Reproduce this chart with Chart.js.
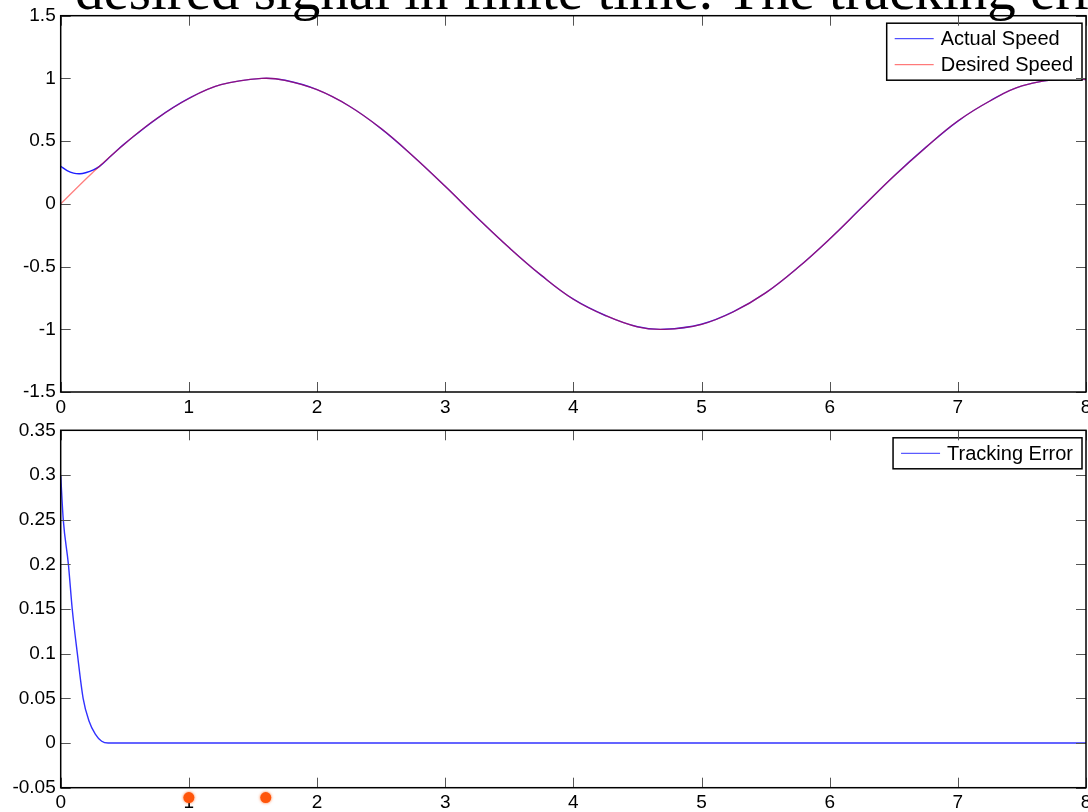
<!DOCTYPE html>
<html>
<head>
<meta charset="utf-8">
<script src="https://cdn.jsdelivr.net/npm/chart.js@4.4.0/dist/chart.umd.min.js"></script>
<style>
  html, body { margin: 0; padding: 0; background: #fff; overflow: hidden; }
  #wrap { position: relative; width: 1088px; height: 812px; overflow: hidden; }
  #topChart { position: absolute; left: 0; top: 0; }
  #bottomChart { position: absolute; left: 0; top: 420px; }
  #caption {
    position: absolute; left: 75px; top: -39px; z-index: 2;
    font-family: "Liberation Serif", "Times New Roman", serif;
    font-size: 57px; line-height: 57px; white-space: nowrap; color: #000;
  }
</style>
</head>
<body>
<div id="wrap">
  <div id="caption">desired signal in finite time. The tracking error</div>
  <canvas id="topChart" width="1088" height="420"></canvas>
  <canvas id="bottomChart" width="1088" height="392"></canvas>
</div>
<script>
// Data
const xTicks = [0, 1, 2, 3, 4, 5, 6, 7, 8];

const speedTime = [0, 0.25, 0.5, 0.75, 1, 1.25, 1.57, 1.75, 2, 2.25, 2.5, 2.75, 3, 3.25, 3.5, 3.75,
                   4, 4.25, 4.5, 4.71, 5, 5.25, 5.5, 5.75, 6, 6.25, 6.5, 6.75, 7, 7.25, 7.5, 7.85, 8];
const desiredSpeed = [0, 0.25, 0.48, 0.68, 0.84, 0.95, 1.0, 0.985, 0.91, 0.78, 0.6, 0.38, 0.14, -0.11, -0.35, -0.57,
                      -0.76, -0.89, -0.98, -1.0, -0.96, -0.86, -0.71, -0.51, -0.28, -0.03, 0.22, 0.45, 0.66, 0.82, 0.94, 1.0, 0.99];

const actualTime = [0, 0.05, 0.1, 0.15, 0.2, 0.25, 0.3, 0.4, 0.5, 0.75, 1, 1.25, 1.57, 1.75, 2, 2.25, 2.5, 2.75, 3, 3.25,
                    3.5, 3.75, 4, 4.25, 4.5, 4.71, 5, 5.25, 5.5, 5.75, 6, 6.25, 6.5, 6.75, 7, 7.25, 7.5, 7.85, 8];
const actualSpeed = [0.3, 0.265, 0.245, 0.24, 0.25, 0.268, 0.297, 0.39, 0.48, 0.68, 0.84, 0.95, 1.0, 0.985, 0.91, 0.78,
                     0.6, 0.38, 0.14, -0.11, -0.35, -0.57, -0.76, -0.89, -0.98, -1.0, -0.96, -0.86, -0.71, -0.51,
                     -0.28, -0.03, 0.22, 0.45, 0.66, 0.82, 0.94, 1.0, 0.99];

const errorTime = [0, 0.02, 0.06, 0.09, 0.13, 0.175, 0.22, 0.27, 0.32, 0.37, 1, 2, 3, 4, 5, 6, 7, 8];
const trackingError = [0.3, 0.25, 0.2, 0.15, 0.1, 0.05, 0.025, 0.01, 0.002, 0, 0, 0, 0, 0, 0, 0, 0, 0];

// the two orange marks under the lower axis
const markTime = [1.0, 1.6];
const markValue = [-0.061, -0.061];

const topYTicks = [-1.5, -1, -0.5, 0, 0.5, 1, 1.5];
const topYLabels = ['-1.5', '-1', '-0.5', '0', '0.5', '1', '1.5'];
const bottomYTicks = [-0.05, 0, 0.05, 0.1, 0.15, 0.2, 0.25, 0.3, 0.35];
const bottomYLabels = ['-0.05', '0', '0.05', '0.1', '0.15', '0.2', '0.25', '0.3', '0.35'];

const tickFont = { family: '"Liberation Sans", Arial, sans-serif', size: 19 };
const legendFont = '20px "Liberation Sans", Arial, sans-serif';

const toPoints = (xs, ys) => xs.map((x, i) => ({ x: x, y: ys[i] }));

// MATLAB style box with inward ticks on all four sides
const frameTicks = {
    id: 'frameTicks',
    afterDraw(chart) {
        const { ctx, chartArea: a, scales } = chart;
        const len = 10;
        ctx.save();
        ctx.strokeStyle = '#555';
        ctx.lineWidth = 1;
        ctx.beginPath();
        scales.x.ticks.forEach(t => {
            const px = Math.round(scales.x.getPixelForValue(t.value)) + 0.5;
            ctx.moveTo(px, a.bottom); ctx.lineTo(px, a.bottom - len);
            ctx.moveTo(px, a.top); ctx.lineTo(px, a.top + len);
        });
        scales.y.ticks.forEach(t => {
            const py = Math.round(scales.y.getPixelForValue(t.value)) + 0.5;
            ctx.moveTo(a.left, py); ctx.lineTo(a.left + len, py);
            ctx.moveTo(a.right, py); ctx.lineTo(a.right - len, py);
        });
        ctx.stroke();
        ctx.strokeStyle = '#000';
        ctx.lineWidth = 1.5;
        ctx.strokeRect(a.left, a.top, a.right - a.left, a.bottom - a.top);
        ctx.restore();
    }
};

// legend box in the upper right corner
const boxLegend = {
    id: 'boxLegend',
    afterDatasetsDraw(chart) {
        const { ctx, chartArea: a } = chart;
        const items = chart.data.datasets.filter(d => d.label);
        ctx.save();
        ctx.font = legendFont;
        const textW = Math.max(...items.map(d => ctx.measureText(d.label).width));
        const rowH = 26;
        const w = 54 + textW + 9;
        const h = 31 + (items.length - 1) * rowH;
        const left = a.right - 4 - w;
        const top = a.top + 7.5;
        ctx.fillStyle = '#fff';
        ctx.fillRect(left, top, w, h);
        ctx.strokeStyle = '#000';
        ctx.lineWidth = 1.5;
        ctx.strokeRect(left, top, w, h);
        items.forEach((d, i) => {
            const cy = top + 15.5 + i * rowH;
            ctx.strokeStyle = d.legendColor || d.borderColor;
            ctx.lineWidth = 1;
            ctx.beginPath();
            ctx.moveTo(left + 8, cy); ctx.lineTo(left + 47, cy);
            ctx.stroke();
            ctx.fillStyle = '#000';
            ctx.textBaseline = 'middle';
            ctx.fillText(d.label, left + 54, cy + 1);
        });
        ctx.restore();
    }
};

// orange marks sit outside the plot area, so place them with the scales here
const outsideMarks = {
    id: 'outsideMarks',
    afterDraw(chart, args, opts) {
        if (!opts.xs) return;
        const { ctx, scales } = chart;
        ctx.save();
        ctx.fillStyle = 'rgb(255,85,10)';
        ctx.shadowColor = 'rgba(255,85,10,0.8)';
        ctx.shadowBlur = 3;
        opts.xs.forEach((v, i) => {
            ctx.beginPath();
            ctx.arc(scales.x.getPixelForValue(v), scales.y.getPixelForValue(opts.ys[i]), 5.5, 0, Math.PI * 2);
            ctx.fill();
        });
        ctx.restore();
    }
};

function makeScales(yMin, yMax, yTicks, yLabels, xHeight) {
    return {
        x: {
            type: 'linear', min: 0, max: 8,
            grid: { display: false, drawTicks: false },
            border: { display: false },
            afterBuildTicks: s => { s.ticks = xTicks.map(v => ({ value: v })); },
            ticks: { color: '#000', font: tickFont, padding: 4, maxRotation: 0, autoSkip: false,
                     callback: v => String(v) },
            afterFit: s => { s.height = xHeight; s.paddingLeft = 0; s.paddingRight = 0; }
        },
        y: {
            type: 'linear', min: yMin, max: yMax,
            grid: { display: false, drawTicks: false },
            border: { display: false },
            afterBuildTicks: s => { s.ticks = yTicks.map(v => ({ value: v })); },
            ticks: { color: '#000', font: tickFont, padding: 5, autoSkip: false,
                     callback: (v, i) => yLabels[i] },
            afterFit: s => { s.width = 60.7; s.paddingTop = 0; s.paddingBottom = 0; }
        }
    };
}

const commonOptions = (padTop, marks) => ({
    responsive: false,
    animation: false,
    devicePixelRatio: 1,
    layout: { padding: { top: padTop, right: 2, left: 0, bottom: 0 } },
    plugins: { legend: { display: false }, tooltip: { enabled: false }, outsideMarks: marks },
    elements: { point: { radius: 0 } }
});

// Upper plot: speeds (desired drawn over actual, so the overlap turns purple)
new Chart(document.getElementById('topChart'), {
    type: 'line',
    data: {
        datasets: [
            { label: 'Actual Speed', data: toPoints(actualTime, actualSpeed), order: 2,
              borderColor: 'rgb(30,30,255)', legendColor: 'rgb(40,40,255)', borderWidth: 1.4, tension: 0.4 },
            { label: 'Desired Speed', data: toPoints(speedTime, desiredSpeed), order: 1,
              borderColor: 'rgba(255,0,0,0.5)', legendColor: 'rgb(255,90,90)', borderWidth: 1.3, tension: 0.4 }
        ]
    },
    options: Object.assign(commonOptions(15.7, {}), { scales: makeScales(-1.5, 1.5, topYTicks, topYLabels, 28) }),
    plugins: [boxLegend, frameTicks, outsideMarks]
});

// Lower plot: tracking error
new Chart(document.getElementById('bottomChart'), {
    type: 'line',
    data: {
        datasets: [
            { label: 'Tracking Error', data: toPoints(errorTime, trackingError),
              borderColor: 'rgb(50,50,255)', borderWidth: 1.4, cubicInterpolationMode: 'monotone' }
        ]
    },
    options: Object.assign(commonOptions(10.3, { xs: markTime, ys: markValue }),
                           { scales: makeScales(-0.05, 0.35, bottomYTicks, bottomYLabels, 24.3) }),
    plugins: [boxLegend, frameTicks, outsideMarks]
});
</script>
</body>
</html>
